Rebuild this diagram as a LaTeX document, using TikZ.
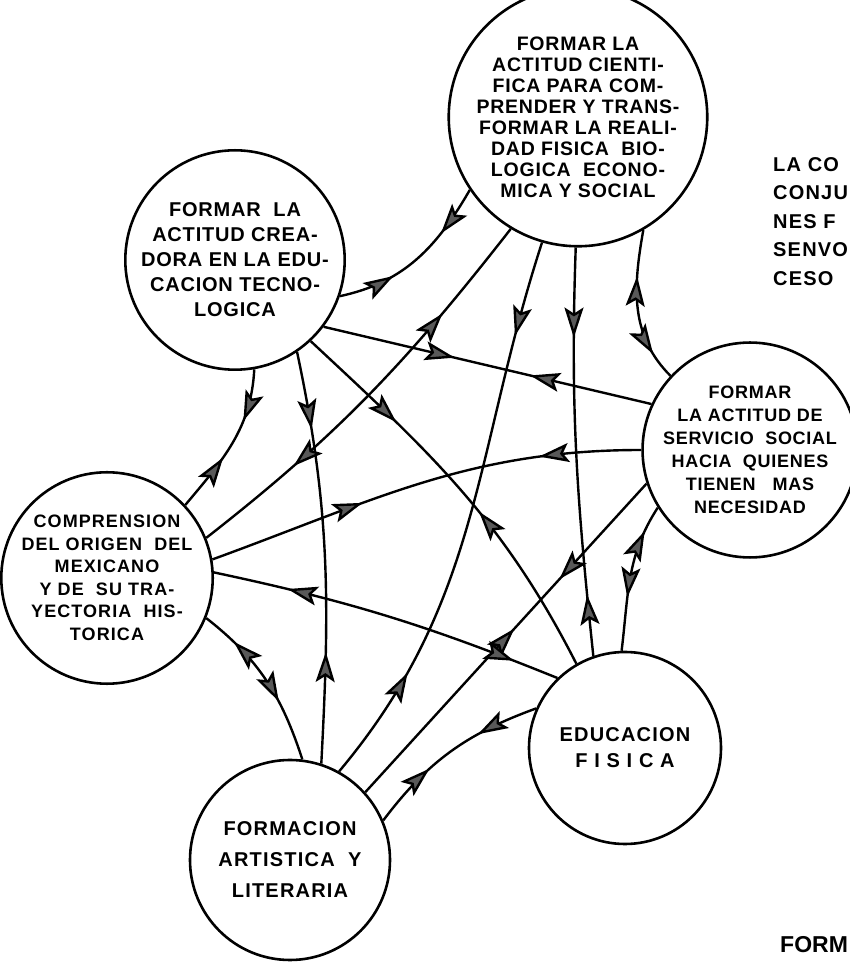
\documentclass[tikz,border=0pt]{standalone}
\usepackage{fontspec}
\setmainfont{Liberation Sans}
\usetikzlibrary{arrows.meta, decorations.markings}

\begin{document}
\begin{tikzpicture}[x=1pt, y=1pt,
  goal/.style={circle, draw, line width=2.6pt, inner sep=0pt, align=center},
  link/.style={line width=2.4pt},
  goaltip/.tip={Stealth[length=30pt, width=19pt, inset=6pt, fill=black!65]},
  fwd/.style={postaction={decorate, decoration={markings, mark=at position #1 with {\arrow{goaltip}}}}},
  bwd/.style={postaction={decorate, decoration={markings, mark=at position #1 with {\arrowreversed{goaltip}}}}}]

\useasboundingbox (0,0) rectangle (850,964);
\clip (0,0) rectangle (850,964);

% Goals (circles)
\node[goal, minimum size=228pt, font={\fontsize{19.5}{21}\selectfont\bfseries\addfontfeatures{LetterSpace=4}}] (ciencia) at (578,847)
  {FORMAR LA\\ACTITUD CIENTI-\\FICA PARA COM-\\PRENDER Y TRANS-\\FORMAR LA REALI-\\DAD FISICA~~BIO-\\LOGICA~~ECONO-\\MICA Y SOCIAL};
\node[goal, minimum size=200pt, font={\fontsize{20}{25}\selectfont\bfseries\addfontfeatures{LetterSpace=4}}] (tecno) at (235,704)
  {FORMAR~~LA\\ACTITUD CREA-\\DORA EN LA EDU-\\CACION TECNO-\\LOGICA};
\node[goal, minimum size=194pt, font={\fontsize{18}{23}\selectfont\bfseries\addfontfeatures{LetterSpace=4}}] (servicio) at (750,514)
  {FORMAR\\LA ACTITUD DE\\SERVICIO~~SOCIAL\\HACIA~~QUIENES\\TIENEN~~~MAS\\NECESIDAD};
\node[goal, minimum size=198pt, font={\fontsize{18}{22.5}\selectfont\bfseries\addfontfeatures{LetterSpace=6}}] (mexicano) at (107,386)
  {COMPRENSION\\DEL ORIGEN~~DEL\\MEXICANO\\Y DE~~SU TRA-\\YECTORIA~~HIS-\\TORICA};
\node[goal, minimum size=192pt, font={\fontsize{20}{26}\selectfont\bfseries\addfontfeatures{LetterSpace=6}}] (fisica) at (625,216)
  {EDUCACION\\F I S I C A};
\node[goal, minimum size=200pt, font={\fontsize{20}{31}\selectfont\bfseries\addfontfeatures{LetterSpace=6}}] (artistica) at (290,104)
  {FORMACION\\ARTISTICA~~Y\\LITERARIA};

% Links between goals
\draw[link, fwd=0.33, bwd=0.7] (tecno.-19) to[out=12, in=240] (ciencia.-146);
\draw[link, fwd=0.39, bwd=0.66] (mexicano.43) to[out=50, in=-93] (tecno.-80);
\draw[link, fwd=0.19, bwd=0.73] (tecno.-56) to[out=-78, in=87] (artistica.72);
\draw[link, fwd=0.28, bwd=0.57] (tecno.-47) to[out=-43, in=117] (fisica.120);
\draw[link, fwd=0.4, bwd=0.63] (tecno.-37) -- (servicio.155);
\draw[link, bwd=0.25, fwd=0.74] (ciencia.-121) to[out=232, in=38] (mexicano.22);
\draw[link, fwd=0.17, bwd=0.79] (ciencia.-106) to[out=252, in=50] (artistica.61);
\draw[link, fwd=0.22, bwd=0.85] (ciencia.-91) to[out=268, in=96] (fisica.109);
\draw[link, bwd=0.3, fwd=0.82] (ciencia.-60) to[out=-100, in=135] (servicio.137);
\draw[link, fwd=0.23, bwd=0.64] (servicio.180) to[out=180, in=20] (mexicano.10);
\draw[link, fwd=0.31, bwd=0.47] (servicio.198) -- (artistica.42);
\draw[link, bwd=0.18, fwd=0.64] (servicio.-148) to[out=237, in=83] (fisica.92);
\draw[link, bwd=0.21, fwd=0.87] (mexicano.3) to[out=-12, in=158] (fisica.134);
\draw[link, bwd=0.21, fwd=0.64] (mexicano.-22) to[out=-38, in=108] (artistica.83);
\draw[link, fwd=0.36, bwd=0.67] (artistica.23) to[out=53, in=200] (fisica.156);

% Text cut off at the page edge
\node[anchor=north west, inner sep=0pt, align=left, font={\fontsize{20}{28.5}\selectfont\bfseries\addfontfeatures{LetterSpace=6}}] (nota) at (773,807)
  {LA CO\\CONJU\\NES F\\SENVO\\CESO};
\node[anchor=base west, inner sep=0pt, font={\fontsize{23}{25}\selectfont\bfseries}] (pie) at (780,12) {FORM};

\end{tikzpicture}
\end{document}
